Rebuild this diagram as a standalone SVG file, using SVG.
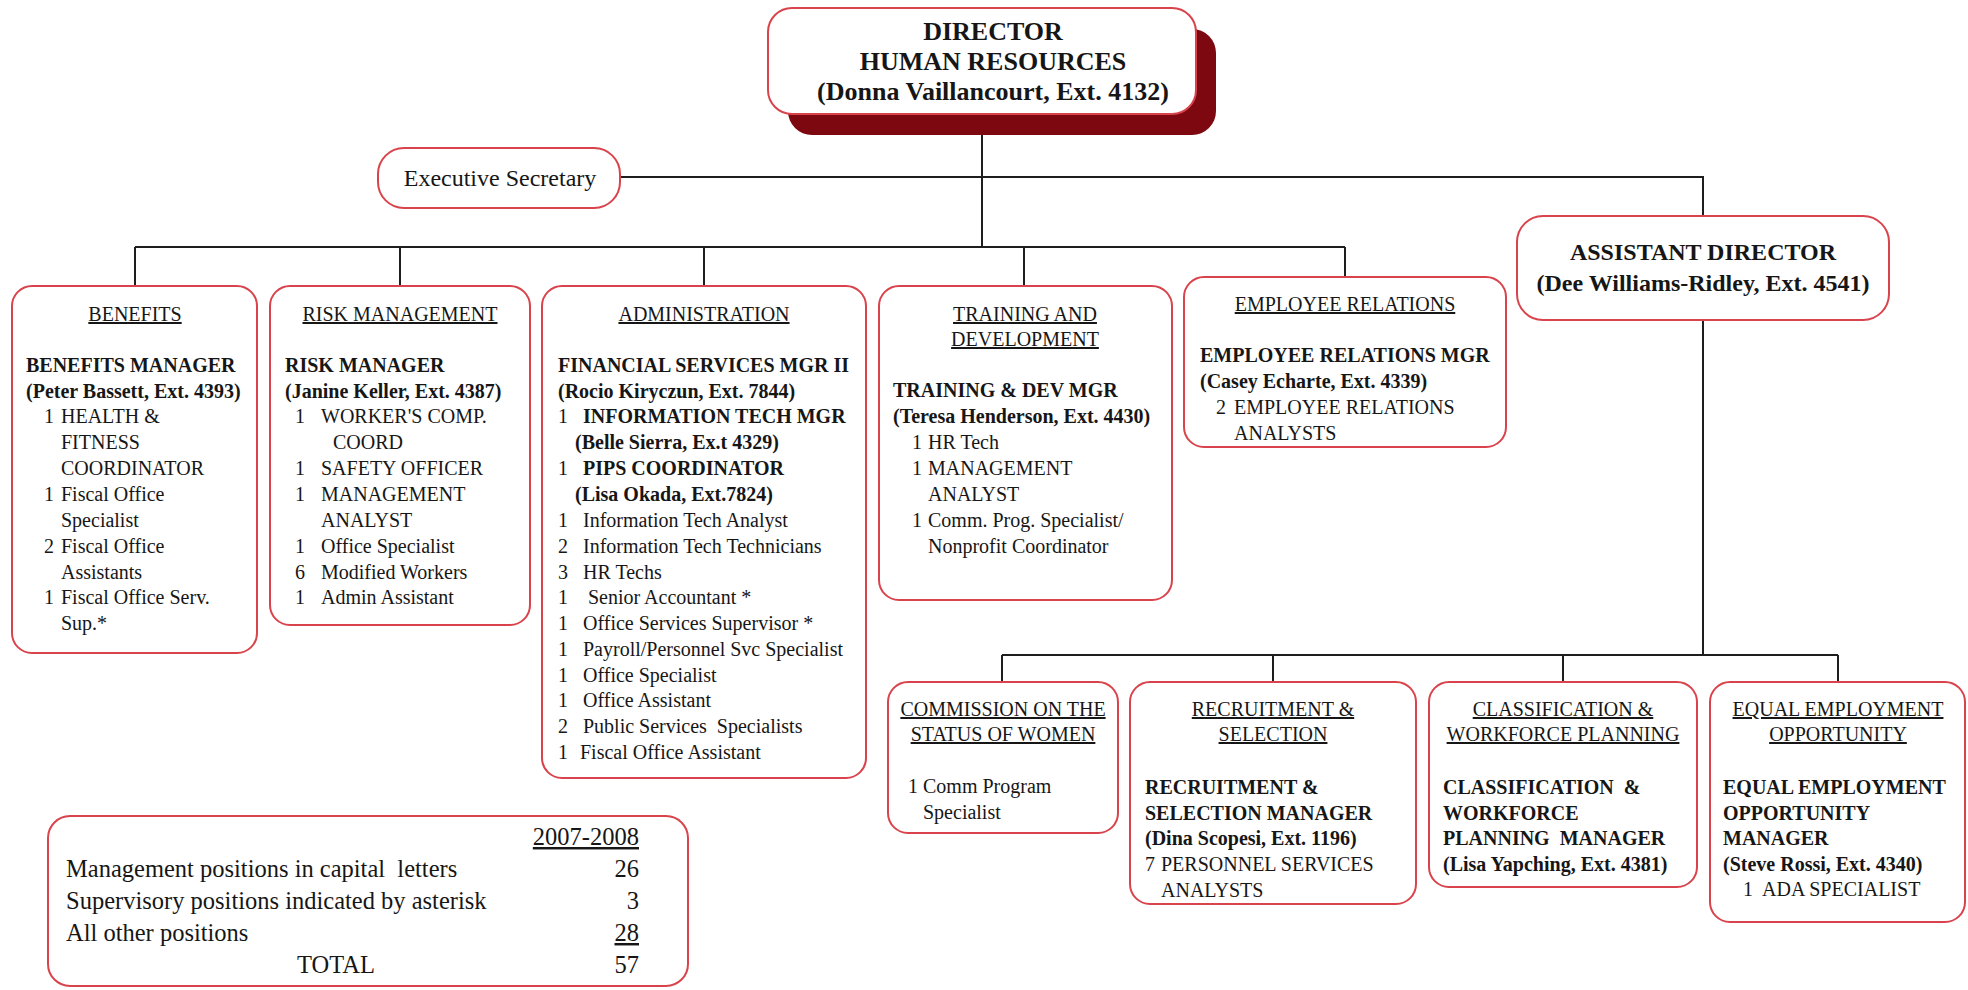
<svg xmlns="http://www.w3.org/2000/svg" width="1968" height="990" viewBox="0 0 1968 990">
<style>
text{font-family:"Liberation Serif","Times New Roman",serif;fill:#161616;}
.box{fill:#fff;stroke:#d9434b;stroke-width:2;}
.shadow{fill:#7d0810;}
.conn{fill:none;stroke:#1e1e1e;stroke-width:2;}
.r{font-size:20px;}
.b{font-size:20px;font-weight:bold;}
.h{font-size:20px;text-anchor:middle;text-decoration:underline;}
.dir{font-size:26px;font-weight:bold;text-anchor:middle;}
.ad{font-size:24px;font-weight:bold;text-anchor:middle;}
.ex{font-size:24px;text-anchor:middle;}
.tb{font-size:24.5px;}
.num{font-size:24.5px;text-anchor:end;}
</style>
<rect width="1968" height="990" fill="#fff"/>
<g id="connectors">
<path class="conn" d="M982 115V247M135 247H1345M135 247V286M400 247V286M704 247V286M1024 247V286M1345 247V277"/>
<path class="conn" d="M620 177H1703V216M1703 320V655M1002 655H1838M1002 655V682M1273 655V682M1563 655V682M1838 655V682"/>
</g>
<g id="director">
<rect class="shadow" x="788" y="29" width="428" height="106" rx="24"/>
<rect class="box" x="768" y="8" width="428" height="106" rx="24"/>
<text class="dir" x="993" y="40">DIRECTOR</text>
<text class="dir" x="993" y="70">HUMAN RESOURCES</text>
<text class="dir" x="993" y="100">(Donna Vaillancourt, Ext. 4132)</text>
</g>
<g id="exec-secretary">
<rect class="box" x="378" y="148" width="242" height="60" rx="26"/>
<text class="ex" x="500" y="186">Executive Secretary</text>
</g>
<g id="benefits">
<rect class="box" x="12" y="286" width="245" height="367" rx="20"/>
<text class="h" x="135" y="321">BENEFITS</text>
<text class="b" x="26" y="372">BENEFITS MANAGER</text>
<text class="b" x="26" y="398">(Peter Bassett, Ext. 4393)</text>
<text class="r"><tspan x="44" y="423">1</tspan><tspan x="61" y="423">HEALTH &amp;</tspan><tspan x="61" y="449">FITNESS</tspan><tspan x="61" y="475">COORDINATOR</tspan><tspan x="44" y="501">1</tspan><tspan x="61" y="501">Fiscal Office</tspan><tspan x="61" y="527">Specialist</tspan><tspan x="44" y="553">2</tspan><tspan x="61" y="553">Fiscal Office</tspan><tspan x="61" y="579">Assistants</tspan><tspan x="44" y="604">1</tspan><tspan x="61" y="604">Fiscal Office Serv.</tspan><tspan x="61" y="630">Sup.*</tspan></text>
</g>
<g id="risk-management">
<rect class="box" x="270" y="286" width="260" height="339" rx="20"/>
<text class="h" x="400" y="321">RISK MANAGEMENT</text>
<text class="b" x="285" y="372">RISK MANAGER</text>
<text class="b" x="285" y="398">(Janine Keller, Ext. 4387)</text>
<text class="r"><tspan x="295" y="423">1</tspan><tspan x="321" y="423">WORKER'S COMP.</tspan><tspan x="333" y="449">COORD</tspan><tspan x="295" y="475">1</tspan><tspan x="321" y="475">SAFETY OFFICER</tspan><tspan x="295" y="501">1</tspan><tspan x="321" y="501">MANAGEMENT</tspan><tspan x="321" y="527">ANALYST</tspan><tspan x="295" y="553">1</tspan><tspan x="321" y="553">Office Specialist</tspan><tspan x="295" y="579">6</tspan><tspan x="321" y="579">Modified Workers</tspan><tspan x="295" y="604">1</tspan><tspan x="321" y="604">Admin Assistant</tspan></text>
</g>
<g id="administration">
<rect class="box" x="542" y="286" width="324" height="492" rx="20"/>
<text class="h" x="704" y="321">ADMINISTRATION</text>
<text class="b" x="558" y="372">FINANCIAL SERVICES MGR II</text>
<text class="b" x="558" y="398">(Rocio Kiryczun, Ext. 7844)</text>
<text class="r" x="558" y="423">1</text>
<text class="b" x="583" y="423">INFORMATION TECH MGR</text>
<text class="b" x="575" y="449">(Belle Sierra, Ex.t 4329)</text>
<text class="r" x="558" y="475">1</text>
<text class="b" x="583" y="475">PIPS COORDINATOR</text>
<text class="b" x="575" y="501">(Lisa Okada, Ext.7824)</text>
<text class="r"><tspan x="558" y="527">1</tspan><tspan x="583" y="527">Information Tech Analyst</tspan><tspan x="558" y="553">2</tspan><tspan x="583" y="553">Information Tech Technicians</tspan><tspan x="558" y="579">3</tspan><tspan x="583" y="579">HR Techs</tspan><tspan x="558" y="604">1</tspan><tspan x="588" y="604">Senior Accountant *</tspan><tspan x="558" y="630">1</tspan><tspan x="583" y="630">Office Services Supervisor *</tspan><tspan x="558" y="656">1</tspan><tspan x="583" y="656">Payroll/Personnel Svc Specialist</tspan><tspan x="558" y="682">1</tspan><tspan x="583" y="682">Office Specialist</tspan><tspan x="558" y="707">1</tspan><tspan x="583" y="707">Office Assistant</tspan><tspan x="558" y="733">2</tspan><tspan x="583" y="733" xml:space="preserve">Public Services  Specialists</tspan><tspan x="558" y="759">1</tspan><tspan x="580" y="759">Fiscal Office Assistant</tspan></text>
</g>
<g id="training">
<rect class="box" x="879" y="286" width="293" height="314" rx="20"/>
<text class="h" x="1025" y="321">TRAINING AND</text>
<text class="h" x="1025" y="346">DEVELOPMENT</text>
<text class="b" x="893" y="397">TRAINING &amp; DEV MGR</text>
<text class="b" x="893" y="423">(Teresa Henderson, Ext. 4430)</text>
<text class="r"><tspan x="912" y="449">1</tspan><tspan x="928" y="449">HR Tech</tspan><tspan x="912" y="475">1</tspan><tspan x="928" y="475">MANAGEMENT</tspan><tspan x="928" y="501">ANALYST</tspan><tspan x="912" y="527">1</tspan><tspan x="928" y="527">Comm. Prog. Specialist/</tspan><tspan x="928" y="553">Nonprofit Coordinator</tspan></text>
</g>
<g id="employee-relations">
<rect class="box" x="1184" y="277" width="322" height="170" rx="20"/>
<text class="h" x="1345" y="311">EMPLOYEE RELATIONS</text>
<text class="b" x="1200" y="362">EMPLOYEE RELATIONS MGR</text>
<text class="b" x="1200" y="388">(Casey Echarte, Ext. 4339)</text>
<text class="r"><tspan x="1216" y="414">2</tspan><tspan x="1234" y="414">EMPLOYEE RELATIONS</tspan><tspan x="1234" y="440">ANALYSTS</tspan></text>
</g>
<g id="assistant-director">
<rect class="box" x="1517" y="216" width="372" height="104" rx="26"/>
<text class="ad" x="1703" y="260">ASSISTANT DIRECTOR</text>
<text class="ad" x="1703" y="291">(Dee Williams-Ridley, Ext. 4541)</text>
</g>
<g id="commission">
<rect class="box" x="888" y="682" width="230" height="151" rx="20"/>
<text class="h" x="1003" y="716">COMMISSION ON THE</text>
<text class="h" x="1003" y="741">STATUS OF WOMEN</text>
<text class="r"><tspan x="908" y="793">1</tspan><tspan x="923" y="793">Comm Program</tspan><tspan x="923" y="819">Specialist</tspan></text>
</g>
<g id="recruitment">
<rect class="box" x="1130" y="682" width="286" height="222" rx="20"/>
<text class="h" x="1273" y="716">RECRUITMENT &amp;</text>
<text class="h" x="1273" y="741">SELECTION</text>
<text class="b" x="1145" y="794">RECRUITMENT &amp;</text>
<text class="b" x="1145" y="820">SELECTION MANAGER</text>
<text class="b" x="1145" y="845">(Dina Scopesi, Ext. 1196)</text>
<text class="r"><tspan x="1145" y="871">7</tspan><tspan x="1161" y="871">PERSONNEL SERVICES</tspan><tspan x="1161" y="897">ANALYSTS</tspan></text>
</g>
<g id="classification">
<rect class="box" x="1429" y="682" width="268" height="205" rx="20"/>
<text class="h" x="1563" y="716">CLASSIFICATION &amp;</text>
<text class="h" x="1563" y="741">WORKFORCE PLANNING</text>
<text class="b" x="1443" y="794" xml:space="preserve">CLASSIFICATION  &amp;</text>
<text class="b" x="1443" y="820">WORKFORCE</text>
<text class="b" x="1443" y="845" xml:space="preserve">PLANNING  MANAGER</text>
<text class="b" x="1443" y="871">(Lisa Yapching, Ext. 4381)</text>
</g>
<g id="eeo">
<rect class="box" x="1710" y="682" width="255" height="240" rx="20"/>
<text class="h" x="1838" y="716">EQUAL EMPLOYMENT</text>
<text class="h" x="1838" y="741">OPPORTUNITY</text>
<text class="b" x="1723" y="794">EQUAL EMPLOYMENT</text>
<text class="b" x="1723" y="820">OPPORTUNITY</text>
<text class="b" x="1723" y="845">MANAGER</text>
<text class="b" x="1723" y="871">(Steve Rossi, Ext. 4340)</text>
<text class="r"><tspan x="1743" y="896">1</tspan><tspan x="1762" y="896">ADA SPECIALIST</tspan></text>
</g>
<g id="summary">
<rect class="box" x="48" y="816" width="640" height="170" rx="22"/>
<text class="num" x="639" y="845" text-decoration="underline">2007-2008</text>
<text class="tb" x="66" y="877" xml:space="preserve">Management positions in capital  letters</text>
<text class="num" x="639" y="877">26</text>
<text class="tb" x="66" y="909">Supervisory positions indicated by asterisk</text>
<text class="num" x="639" y="909">3</text>
<text class="tb" x="66" y="941">All other positions</text>
<text class="num" x="639" y="941" text-decoration="underline">28</text>
<text class="tb" x="336" y="973" text-anchor="middle">TOTAL</text>
<text class="num" x="639" y="973">57</text>
</g>
</svg>
